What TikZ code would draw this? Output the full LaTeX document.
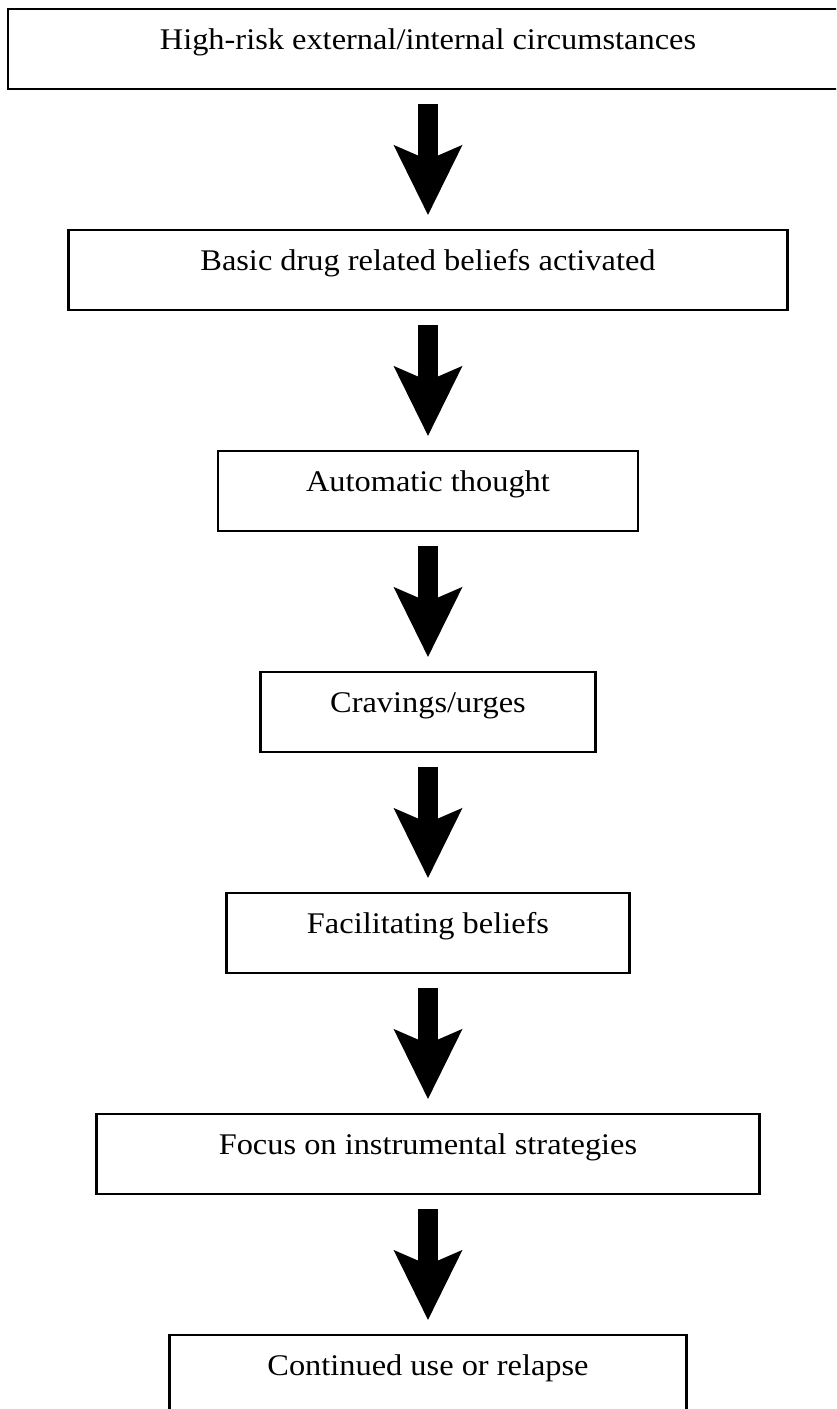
\documentclass[tikz,border=0pt]{standalone}
\usepackage{fontspec}
\setmainfont{Liberation Serif}[FakeStretch=1.08]
\usetikzlibrary{positioning, arrows.meta}
\begin{document}
\begin{tikzpicture}[x=0.4pt, y=0.4pt, node distance=55.5pt,
    stage/.style={rectangle, draw, line width=0.9pt, inner sep=0pt, minimum height=32pt, text height=8pt, text depth=7.4pt, font=\fontsize{12pt}{14pt}\selectfont},
    bigarrow/.style={line width=8pt, -{Stealth[length=28pt, width=27.6pt, inset=6pt, line width=0pt]}, shorten <=5.6pt, shorten >=5.6pt}]
    \useasboundingbox (0,0) rectangle (836,1409);
    \clip (0,0) rectangle (836,1409);

    \node [stage, minimum width=336pt] (risk) at (428,1360) {High-risk external/internal circumstances};
    \node [stage, minimum width=287.6pt, below=of risk] (beliefs) {Basic drug related beliefs activated};
    \node [stage, minimum width=168pt, below=of beliefs] (thought) {Automatic thought};
    \node [stage, minimum width=134pt, below=of thought] (craving) {Cravings/urges};
    \node [stage, minimum width=161.2pt, below=of craving] (facil) {Facilitating beliefs};
    \node [stage, minimum width=265.2pt, below=of facil] (focus) {Focus on instrumental strategies};
    \node [stage, minimum width=206.8pt, below=of focus] (relapse) {Continued use or relapse};

    \draw [bigarrow] (risk) -- (beliefs);
    \draw [bigarrow] (beliefs) -- (thought);
    \draw [bigarrow] (thought) -- (craving);
    \draw [bigarrow] (craving) -- (facil);
    \draw [bigarrow] (facil) -- (focus);
    \draw [bigarrow] (focus) -- (relapse);
\end{tikzpicture}
\end{document}
